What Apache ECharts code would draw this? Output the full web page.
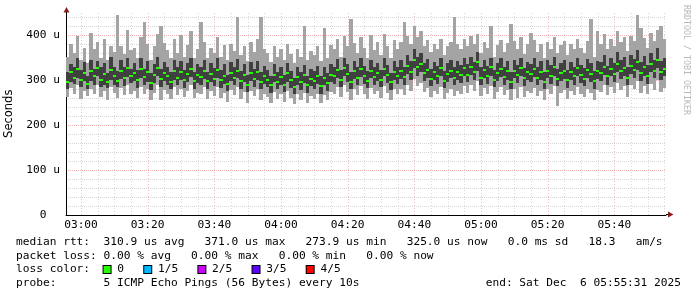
<!DOCTYPE html>
<html><head><meta charset="utf-8">
<script src="https://cdn.jsdelivr.net/npm/echarts@6/dist/echarts.min.js"></script>
<style>html,body{margin:0;padding:0;background:#fff}#c{width:697px;height:297px}</style>
</head><body><div id="c"></div>
<script>
// minutes since midnight of first column (02:56), one column per minute
const startMinute = 176;
const med = [
296,318,305,325,300,316,292,320,308,326,301,314,295,322,310,298,319,304,327,309,
315,299,324,306,318,293,312,327,302,316,308,296,321,305,317,300,313,324,298,311,
306,320,297,314,303,322,299,310,292,316,305,321,298,312,290,315,302,318,296,309,
301,288,312,296,307,290,315,299,284,306,295,311,289,303,297,310,286,305,294,312,
308,322,300,327,314,296,319,305,324,310,298,321,307,316,301,325,311,295,318,309,
320,306,331,318,345,328,336,315,323,302,317,309,326,298,314,321,305,318,311,327,
312,330,318,339,305,322,310,328,300,316,324,307,319,296,321,311,326,304,318,313,
324,305,318,296,321,310,328,302,315,320,299,317,308,326,311,303,322,314,297,319,
316,330,308,325,314,336,319,327,305,331,322,340,315,328,310,335,321,344,318,325];
const q1 = [
280,296,292,305,284,298,280,298,290,310,285,290,282,300,288,284,302,286,306,294,
298,282,305,290,296,278,294,308,285,298,290,280,300,288,300,282,296,306,280,294,
290,302,280,296,286,305,282,292,276,298,288,304,280,295,274,298,285,300,280,292,
285,272,295,280,290,274,296,282,268,288,278,294,272,286,280,292,270,288,276,296,
292,305,284,310,296,280,302,288,306,292,282,304,290,298,284,308,294,278,300,292,
302,290,314,300,326,310,318,298,305,286,300,292,308,282,296,304,288,300,294,310,
295,312,300,320,288,305,292,310,284,298,306,290,300,280,304,294,308,286,300,296,
306,288,300,280,304,292,310,286,298,302,282,300,290,308,294,286,304,296,280,302,
298,312,290,308,296,318,302,310,288,314,304,322,298,310,292,318,304,326,300,308];
const q3 = [
318,335,330,348,322,340,310,345,325,342,328,338,315,352,330,320,345,330,350,325,
338,322,348,325,342,315,335,352,325,340,330,318,345,328,342,322,338,350,318,336,
330,345,318,338,326,348,322,335,312,340,328,346,320,336,312,340,325,342,318,332,
322,310,335,318,330,312,338,320,305,328,318,334,310,325,320,332,308,328,316,336,
330,346,322,350,336,318,342,328,348,332,320,344,330,338,322,350,334,316,342,330,
345,328,355,342,368,352,360,338,346,325,340,332,350,320,338,345,328,342,334,350,
335,352,340,362,328,345,332,350,322,338,348,330,342,318,345,334,350,326,340,336,
348,328,342,318,345,334,352,325,338,344,322,340,330,350,334,326,346,338,320,342,
340,355,332,350,338,362,344,352,328,356,346,366,340,354,334,360,345,372,342,350];
const lo = [
262,282,270,288,258,276,264,280,268,290,262,276,255,284,272,260,283,266,290,270,
276,260,285,268,280,256,272,290,255,278,270,258,284,266,280,262,275,288,260,272,
268,284,258,276,265,285,260,272,252,278,266,284,258,274,250,276,264,280,256,270,
262,250,274,258,268,252,276,260,246,268,256,272,250,264,258,270,248,266,255,274,
270,284,262,288,274,256,280,266,286,270,258,282,268,276,260,286,272,255,280,268,
280,266,290,276,302,286,294,274,282,262,276,268,285,258,272,280,264,276,270,286,
272,290,276,298,264,282,270,286,258,274,284,266,278,255,280,260,285,262,276,272,
282,264,276,256,280,268,286,242,272,278,258,275,266,284,270,262,280,272,255,278,
274,290,266,284,272,294,278,286,262,290,280,298,272,286,268,292,278,300,274,282];
const hi = [
352,380,360,398,345,372,338,405,368,385,350,392,345,376,362,445,375,358,412,366,
372,350,395,430,380,345,375,402,420,382,366,350,392,360,400,352,378,410,348,370,
430,385,350,372,360,395,352,378,345,380,365,440,356,375,342,385,362,392,440,368,
360,340,375,352,368,345,380,358,338,370,352,420,345,365,356,375,342,415,350,378,
368,392,352,398,375,435,382,360,395,372,350,400,366,385,355,402,376,348,388,368,
385,430,398,380,420,395,408,376,388,362,380,370,392,355,375,385,440,380,368,392,
375,398,380,402,360,385,372,420,352,378,390,362,382,425,386,370,395,358,380,405,
388,362,380,350,385,370,395,360,378,386,355,380,368,392,372,360,386,435,352,410,
380,402,370,392,376,410,384,395,365,398,386,445,415,394,372,405,386,412,420,392];

const xLabelMinutes = [180,200,220,240,260,280,300,320,340];
const legendRows = [
  'median rtt:  310.9 us avg   371.0 us max   273.9 us min   325.0 us now   0.0 ms sd   18.3   am/s',
  'packet loss: 0.00 % avg   0.00 % max   0.00 % min   0.00 % now',
  null,
  'probe:       5 ICMP Echo Pings (56 Bytes) every 10s'
];
const endText = 'end: Sat Dec  6 05:55:31 2025';
const lossLabels = ['0','1/5','2/5','3/5','4/5'];
const lossColors = ['#26ff00','#00b8ff','#cc00ff','#5a00ff','#ff0000'];

const xMin = 175.5, xMax = 355.5;
const gridX = [];
for (let v = 180; v <= 355; v += 5) gridX.push([v]);

const data = med.map((m, i) => [startMinute + i, lo[i], q1[i], m, q3[i], hi[i]]);

function fmtTime(v){
  const h = Math.floor(v/60), m = Math.round(v%60);
  return String(h).padStart(2,'0') + ':' + String(m).padStart(2,'0');
}

const FONT = '"DejaVu Sans Mono", monospace';
const chart = echarts.init(document.getElementById('c'), null, {renderer:'canvas'});

const rowY = [241.7, 255.6, 269.5, 283.4];
const graphics = [];
legendRows.forEach((t, i) => {
  if (!t) return;
  graphics.push({type:'text', silent:true, style:{text:t, x:16, y:rowY[i], font:'11.2px ' + FONT, fill:'#000',
    textVerticalAlign:'middle', verticalAlign:'middle'}});
});
let richText = '{t|loss color:  }';
const rich = {t:{font:'11.2px ' + FONT, fill:'#000', color:'#000'}};
lossLabels.forEach((l, i) => {
  rich['b'+i] = {width:7, height:7, backgroundColor:lossColors[i], borderColor:'#000', borderWidth:1};
  richText += '{b'+i+'|}{t| ' + l + (i < lossLabels.length-1 ? '   ' : '') + '}';
});
graphics.push({type:'text', silent:true, style:{text:richText, rich:rich, x:16, y:rowY[2], font:'11.2px ' + FONT,
  textVerticalAlign:'middle', verticalAlign:'middle'}});
graphics.push({type:'text', silent:true, style:{text:endText, x:681, y:rowY[3], font:'11.2px ' + FONT, fill:'#000',
  textAlign:'right', align:'right', textVerticalAlign:'middle', verticalAlign:'middle'}});
graphics.push({type:'text', silent:true, x:686, y:60, rotation:-Math.PI/2, style:{text:'RRDTOOL / TOBI OETIKER', x:0, y:0,
  font:'8.3px ' + FONT, fill:'#b8b8b8', textAlign:'center', align:'center', textVerticalAlign:'middle', verticalAlign:'middle'}});
graphics.push({type:'line', silent:true, shape:{x1:666, y1:214.5, x2:669, y2:214.5}, style:{stroke:'#000', lineWidth:1}});
graphics.push({type:'polygon', silent:true, shape:{points:[[668,211.5],[668,217.5],[673.5,214.5]]}, style:{fill:'#8b1c1c'}});
graphics.push({type:'polygon', silent:true, shape:{points:[[63.5,12.5],[69.5,12.5],[66.5,7]]}, style:{fill:'#8b1c1c'}});

const option = {
  animation: false,
  backgroundColor: '#fff',
  grid: {left:66, right:31, top:12.5, bottom:82, containLabel:false, outerBoundsMode:'none'},
  xAxis: {
    type:'value', min:xMin, max:xMax,
    axisLine:{show:true, lineStyle:{color:'#000', width:1}},
    axisTick:{show:false},
    splitLine:{show:false},
    axisLabel:{customValues:xLabelMinutes, formatter:v => fmtTime(v), color:'#000', fontFamily:'DejaVu Sans Mono', fontSize:11.2, margin:5}
  },
  yAxis: {
    type:'value', min:0, max:450, interval:20,
    name:'Seconds', nameLocation:'middle', nameGap:48, nameRotate:90,
    nameTextStyle:{color:'#000', fontFamily:'DejaVu Sans', fontSize:11.5},
    axisLine:{show:true, lineStyle:{color:'#000', width:1}},
    axisTick:{show:false},
    axisLabel:{showMaxLabel:false, color:'#000', fontFamily:'DejaVu Sans Mono', fontSize:11.2, margin:6,
      formatter: v => (v % 100 === 0 ? (v === 0 ? '0  ' : v + ' u') : '')},
    splitLine:{show:true, showMaxLine:false, lineStyle:{type:[1,1], width:1,
      color:['#efb0b0','#d6d6d6','#d6d6d6','#d6d6d6','#d6d6d6']}}
  },
  graphic: graphics,
  series: [
    {
      type:'custom', z:1, silent:true,
      data: gridX,
      encode:{x:0},
      renderItem: (params, api) => {
        const v = api.value(0);
        const p0 = api.coord([v, 0]);
        const p1 = api.coord([v, 450]);
        const x = Math.round(p0[0]) + 0.5;
        return {type:'line', shape:{x1:x, y1:p0[1], x2:x, y2:p1[1]},
          style:{stroke: v % 20 === 0 ? '#f2baba' : '#dadada', lineWidth:1, lineDash:[1,2]}};
      }
    },
    {
      type:'custom', z:3, silent:true,
      data: data,
      encode:{x:0, y:[1,5]},
      renderItem: (params, api) => {
        const t = api.value(0);
        const a = api.coord([t-0.5, api.value(1)]);
        const b = api.coord([t+0.5, api.value(5)]);
        const c = api.coord([t-0.5, api.value(2)]);
        const d = api.coord([t+0.5, api.value(4)]);
        const m = api.coord([t, api.value(3)]);
        const x0 = Math.round(a[0]), x1 = Math.round(b[0]);
        return {type:'group', children:[
          {type:'rect', shape:{x:x0, y:Math.round(b[1]), width:x1-x0, height:Math.round(a[1])-Math.round(b[1])}, style:{fill:'#a4a4a4'}},
          {type:'rect', shape:{x:x0, y:Math.round(d[1]), width:x1-x0, height:Math.round(c[1])-Math.round(d[1])}, style:{fill:'#404040'}},
          {type:'rect', shape:{x:x0, y:Math.round(m[1])-1, width:x1-x0, height:2}, style:{fill:'#26ff00'}}
        ]};
      }
    }
  ]
};
chart.setOption(option);
</script>
</body></html>
